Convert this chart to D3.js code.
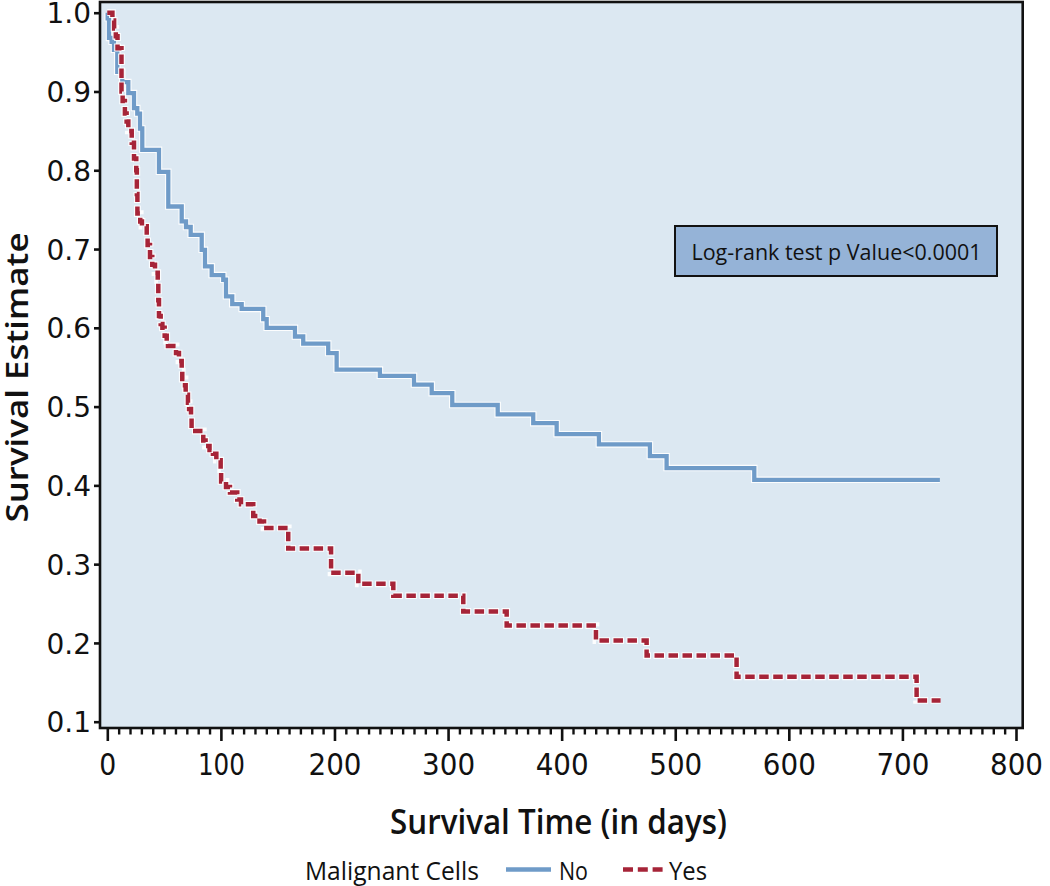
<!DOCTYPE html>
<html>
<head>
<meta charset="utf-8">
<script src="https://cdn.jsdelivr.net/npm/d3@7"></script>
<style>
  html, body { margin: 0; padding: 0; background: #ffffff; }
  svg { display: block; }
</style>
</head>
<body>
<svg id="chart" width="1050" height="886"></svg>
<script>
// ---------- data ----------
const xTickValues = [0, 100, 200, 300, 400, 500, 600, 700, 800];
const yTickValues = [0.1, 0.2, 0.3, 0.4, 0.5, 0.6, 0.7, 0.8, 0.9, 1.0];
const seriesNames = ["No", "Yes"];

// Malignant Cells = No : [time (days), survival estimate after the step]
const noTimes = [0, 0.3, 1.5, 3.8, 5.9, 8.8, 13.2, 18.5, 23.5, 26.4, 28.8, 30.8, 45.5, 53.7, 65.5, 69.3, 73.4, 83.1, 86, 91.9, 102.1, 104.5, 110, 118.3, 137.3, 140.3, 165.2, 172.5, 194.5, 201.9, 240, 270, 285.6, 303.7, 343.7, 375, 395.6, 432.8, 477.7, 492.4, 569.6, 733];
const noSurv  = [1.0, 0.993, 0.968, 0.963, 0.953, 0.925, 0.912, 0.898, 0.879, 0.872, 0.853, 0.826, 0.798, 0.754, 0.735, 0.728, 0.718, 0.699, 0.678, 0.667, 0.661, 0.640, 0.630, 0.624, 0.611, 0.600, 0.589, 0.580, 0.568, 0.547, 0.539, 0.528, 0.517, 0.502, 0.490, 0.479, 0.465, 0.452, 0.437, 0.422, 0.407, 0.407];

// Malignant Cells = Yes
const yesTimes = [0, 4.5, 6, 7.5, 9, 12.5, 13.5, 15.5, 17, 18.5, 21.5, 23.5, 25.5, 26, 26.5, 29, 30.5, 34.7, 35.5, 37.6, 39.6, 42, 44.4, 44.9, 45.5, 47, 48.5, 50.5, 52.3, 53.4, 60.5, 63.1, 65.5, 66, 68.4, 69, 71, 72, 73.7, 74.2, 84.5, 86.5, 90, 93, 96, 99.8, 100.2, 104.5, 108, 114.4, 117.7, 128.5, 134, 138, 159.3, 197, 221, 251.8, 313.4, 351.6, 430.2, 474.8, 554, 712.5, 733.6];
const yesSurv  = [1.0, 0.99, 0.98, 0.97, 0.955, 0.90, 0.888, 0.872, 0.862, 0.85, 0.835, 0.815, 0.80, 0.77, 0.745, 0.735, 0.729, 0.715, 0.705, 0.69, 0.68, 0.67, 0.66, 0.635, 0.615, 0.605, 0.60, 0.59, 0.583, 0.577, 0.568, 0.558, 0.545, 0.535, 0.527, 0.515, 0.505, 0.497, 0.487, 0.469, 0.457, 0.45, 0.445, 0.44, 0.432, 0.42, 0.405, 0.398, 0.391, 0.382, 0.376, 0.361, 0.354, 0.346, 0.320, 0.289, 0.275, 0.260, 0.240, 0.222, 0.203, 0.184, 0.157, 0.127, 0.127];

const pValueText = "Log-rank test p Value<0.0001";
const xTitle = "Survival Time (in days)";
const yTitle = "Survival Estimate";
const legendTitle = "Malignant Cells";

// ---------- layout ----------
const svg = d3.select("#chart");
const plot = { left: 100, right: 1022.7, top: 2, bottom: 728 };
const colors = { No: "#6f9bc8", Yes: "#a62438" };
const bg = "#dce8f2";

const x = d3.scaleLinear().domain([-6.43, 805.9]).range([plot.left, plot.right]);
const y = d3.scaleLinear().domain([0.092, 1.0136]).range([plot.bottom, plot.top]);

// plot background
svg.append("rect")
  .attr("x", plot.left).attr("y", plot.top)
  .attr("width", plot.right - plot.left).attr("height", plot.bottom - plot.top)
  .attr("fill", bg);

// curves
const line = d3.line().curve(d3.curveStepAfter).x(d => x(d[0])).y(d => y(d[1]));
const noData = noTimes.map((t, i) => [t, noSurv[i]]);
const yesData = yesTimes.map((t, i) => [t, yesSurv[i]]);

const g = svg.append("g");
// No (solid) with white halo
g.append("path").datum(noData).attr("d", line)
  .attr("fill", "none").attr("stroke", "#ffffff").attr("stroke-width", 6.5).attr("stroke-opacity", 0.9);
g.append("path").datum(noData).attr("d", line)
  .attr("fill", "none").attr("stroke", colors.No).attr("stroke-width", 4.3);
// Yes (dashed) with white halo
g.append("path").datum(yesData).attr("d", line)
  .attr("fill", "none").attr("stroke", "#ffffff").attr("stroke-width", 6.8)
  .attr("stroke-dasharray", "11.5,2.5").attr("stroke-dashoffset", 1).attr("stroke-opacity", 0.9);
g.append("path").datum(yesData).attr("d", line)
  .attr("fill", "none").attr("stroke", colors.Yes).attr("stroke-width", 4.5)
  .attr("stroke-dasharray", "9.5,4.5");

// frame
svg.append("rect")
  .attr("x", plot.left).attr("y", plot.top)
  .attr("width", plot.right - plot.left).attr("height", plot.bottom - plot.top)
  .attr("fill", "none").attr("stroke", "#111").attr("stroke-width", 2.6);

// x axis (major)
const xAxis = svg.append("g").attr("transform", `translate(0,${plot.bottom})`)
  .call(d3.axisBottom(x).tickValues(xTickValues).tickSize(13).tickSizeOuter(0).tickPadding(12));
xAxis.select(".domain").remove();
xAxis.selectAll(".tick line").attr("stroke", "#111").attr("stroke-width", 2.6);
xAxis.selectAll(".tick text")
  .attr("fill", "#111")
  .style("font-family", "'DejaVu Sans', sans-serif")
  .style("font-size", "31px")
  .attr("dy", "0.71em")
  .attr("lengthAdjust", "spacingAndGlyphs")
  .attr("textLength", d => d === 0 ? 17 : (String(d)[0] === "1" ? 47 : 53));

// x axis (minor)
const minorVals = d3.range(0, 801, 10).filter(v => v % 100 !== 0);
const xMinor = svg.append("g").attr("transform", `translate(0,${plot.bottom})`)
  .call(d3.axisBottom(x).tickValues(minorVals).tickSize(6.5).tickSizeOuter(0).tickFormat(""));
xMinor.select(".domain").remove();
xMinor.selectAll(".tick line").attr("stroke", "#111").attr("stroke-width", 2.4);

// y axis
const yAxis = svg.append("g").attr("transform", `translate(${plot.left},0)`)
  .call(d3.axisLeft(y).tickValues(yTickValues).tickFormat(d3.format(".1f")).tickSize(6).tickSizeOuter(0).tickPadding(3));
yAxis.select(".domain").remove();
yAxis.selectAll(".tick line").attr("stroke", "#111").attr("stroke-width", 2.6);
yAxis.selectAll(".tick text")
  .attr("fill", "#111")
  .style("font-family", "'DejaVu Sans', sans-serif")
  .style("font-size", "28px")
  .attr("dy", "0.36em");

// axis titles
svg.append("text")
  .attr("x", 558.5).attr("y", 834)
  .attr("text-anchor", "middle")
  .attr("textLength", 337).attr("lengthAdjust", "spacingAndGlyphs")
  .style("font-family", "'Open Sans', sans-serif").style("font-size", "35px").style("font-weight", 600)
  .attr("fill", "#111")
  .text(xTitle);

svg.append("text")
  .attr("transform", `translate(28,${(233 + 522) / 2}) rotate(-90)`)
  .attr("text-anchor", "middle")
  .attr("textLength", 290).attr("lengthAdjust", "spacingAndGlyphs")
  .style("font-family", "'Open Sans', sans-serif").style("font-size", "30px").style("font-weight", 600)
  .attr("fill", "#111")
  .text(yTitle);

// p-value box
const box = svg.append("g");
box.append("rect")
  .attr("x", 675).attr("y", 226).attr("width", 322).attr("height", 50)
  .attr("fill", "#95b3d7").attr("stroke", "#111").attr("stroke-width", 2);
box.append("text")
  .attr("x", 836.5).attr("y", 260)
  .attr("text-anchor", "middle")
  .attr("textLength", 290).attr("lengthAdjust", "spacingAndGlyphs")
  .style("font-family", "'Open Sans', sans-serif").style("font-size", "22.5px")
  .attr("fill", "#111")
  .text(pValueText);

// legend
const leg = svg.append("g");
const legFont = "'Open Sans', sans-serif";
leg.append("text").attr("x", 305).attr("y", 880)
  .attr("textLength", 174).attr("lengthAdjust", "spacingAndGlyphs")
  .style("font-family", legFont).style("font-size", "25px").attr("fill", "#111")
  .text(legendTitle);
leg.append("line").attr("x1", 506).attr("x2", 551).attr("y1", 869.5).attr("y2", 869.5)
  .attr("stroke", colors.No).attr("stroke-width", 4.5);
leg.append("text").attr("x", 559).attr("y", 880)
  .attr("textLength", 29).attr("lengthAdjust", "spacingAndGlyphs")
  .style("font-family", legFont).style("font-size", "25px").attr("fill", "#111")
  .text(seriesNames[0]);
leg.append("line").attr("x1", 623).attr("x2", 663).attr("y1", 869.5).attr("y2", 869.5)
  .attr("stroke", colors.Yes).attr("stroke-width", 4.5).attr("stroke-dasharray", "10,4.8");
leg.append("text").attr("x", 669).attr("y", 880)
  .attr("textLength", 38).attr("lengthAdjust", "spacingAndGlyphs")
  .style("font-family", legFont).style("font-size", "25px").attr("fill", "#111")
  .text(seriesNames[1]);
</script>
</body>
</html>
